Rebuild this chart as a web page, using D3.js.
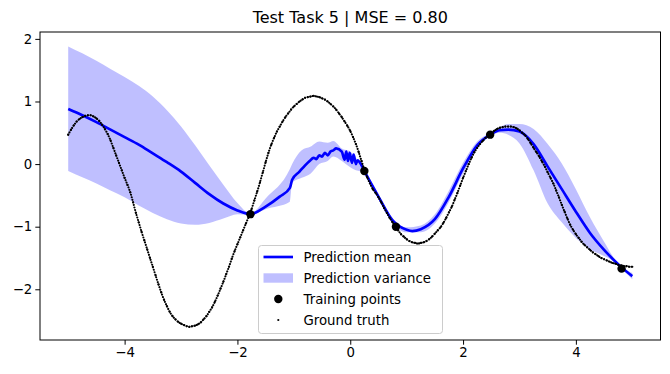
<!DOCTYPE html>
<html><head><meta charset="utf-8">
<script src="https://cdn.jsdelivr.net/npm/d3@7"></script>
<style>body{margin:0;background:#fff}svg{display:block;font-family:"DejaVu Sans",sans-serif}</style>
</head><body><svg id="c" width="670" height="374"></svg>
<script>
const titleText = "Test Task 5 | MSE = 0.80";
const xTicks = [-4, -2, 0, 2, 4];
const yTicks = [-2, -1, 0, 1, 2];
const legendLabels = ["Prediction mean", "Prediction variance", "Training points", "Ground truth"];

const predX = [-5.0,-4.75,-4.5,-4.25,-4.0,-3.75,-3.5,-3.25,-3.0,-2.75,-2.5,-2.25,-2.0,-1.77,-1.5,-1.25,-1.07,-1.03,-0.9,-0.8,-0.72,-0.65,-0.6,-0.55,-0.5,-0.45,-0.4,-0.35,-0.3,-0.25,-0.15,-0.1,-0.07,-0.04,-0.01,0.03,0.06,0.1,0.13,0.2,0.25,0.5,0.75,1.0,1.1,1.25,1.5,1.75,2.0,2.25,2.5,2.65,2.8,3.0,3.25,3.5,3.75,4.0,4.25,4.5,4.75,4.81,5.0];
const predMean = [0.88,0.78,0.67,0.55,0.43,0.31,0.17,0.03,-0.12,-0.30,-0.48,-0.63,-0.74,-0.80,-0.68,-0.52,-0.38,-0.25,-0.12,-0.02,0.05,0.10,0.08,0.14,0.12,0.18,0.14,0.20,0.22,0.25,0.20,0.07,0.20,0.05,0.18,0.02,0.15,0.0,0.06,-0.02,-0.11,-0.52,-0.90,-1.05,-1.07,-1.04,-0.88,-0.52,-0.07,0.30,0.48,0.54,0.55,0.52,0.32,-0.04,-0.40,-0.76,-1.10,-1.37,-1.60,-1.65,-1.79];

const bandX = [-5.0,-4.75,-4.5,-4.25,-4.0,-3.75,-3.5,-3.25,-3.0,-2.75,-2.5,-2.25,-2.0,-1.77,-1.5,-1.07,-1.03,-0.86,-0.7,-0.55,-0.4,-0.3,-0.15,0.0,0.1,0.25,0.5,0.75,1.0,1.25,1.5,1.75,2.0,2.25,2.48,2.65,2.8,3.0,3.25,3.5,3.75,4.0,4.25,4.5,4.7,4.81,5.0];
const bandUpper = [1.88,1.77,1.65,1.52,1.39,1.25,1.08,0.86,0.60,0.30,-0.02,-0.33,-0.62,-0.79,-0.55,-0.08,0.0,0.22,0.28,0.36,0.34,0.37,0.25,0.20,0.10,-0.09,-0.48,-0.86,-1.01,-0.98,-0.80,-0.42,0.02,0.36,0.50,0.59,0.64,0.64,0.56,0.32,0.01,-0.40,-0.85,-1.24,-1.53,-1.63,-1.74];
const bandLower = [-0.11,-0.21,-0.31,-0.42,-0.53,-0.66,-0.78,-0.88,-0.95,-0.97,-0.94,-0.87,-0.80,-0.81,-0.72,-0.60,-0.30,-0.22,-0.15,0.0,0.05,0.12,0.05,-0.05,-0.10,-0.13,-0.56,-0.94,-1.09,-1.09,-0.95,-0.60,-0.15,0.24,0.46,0.50,0.47,0.33,-0.10,-0.63,-0.93,-1.18,-1.36,-1.47,-1.57,-1.67,-1.84];

const trainX = [-1.77, 0.25, 0.81, 2.48, 4.81];
const trainY = [-0.80, -0.11, -1.00, 0.47, -1.67];

const gtY = [0.47,0.55,0.62,0.68,0.72,0.75,0.77,0.78,0.78,0.76,0.73,0.69,0.63,0.56,0.48,0.38,0.26,0.14,0.02,-0.10,-0.22,-0.33,-0.45,-0.61,-0.78,-0.93,-1.08,-1.22,-1.36,-1.50,-1.64,-1.78,-1.92,-2.05,-2.17,-2.27,-2.36,-2.43,-2.48,-2.52,-2.55,-2.57,-2.59,-2.60,-2.59,-2.58,-2.56,-2.53,-2.48,-2.43,-2.36,-2.29,-2.20,-2.10,-1.99,-1.88,-1.76,-1.64,-1.51,-1.39,-1.28,-1.17,-1.06,-0.95,-0.84,-0.72,-0.58,-0.44,-0.29,-0.13,0.03,0.18,0.31,0.42,0.52,0.60,0.68,0.75,0.81,0.87,0.92,0.96,1.00,1.03,1.06,1.07,1.08,1.09,1.08,1.07,1.05,1.03,1.00,0.96,0.92,0.87,0.81,0.75,0.68,0.61,0.53,0.43,0.32,0.19,0.05,-0.09,-0.21,-0.31,-0.40,-0.46,-0.53,-0.61,-0.70,-0.78,-0.86,-0.93,-1.00,-1.06,-1.12,-1.16,-1.20,-1.23,-1.25,-1.26,-1.27,-1.26,-1.25,-1.23,-1.20,-1.16,-1.11,-1.06,-1.01,-0.94,-0.86,-0.77,-0.68,-0.57,-0.46,-0.34,-0.22,-0.11,0.00,0.10,0.19,0.26,0.32,0.37,0.42,0.46,0.49,0.53,0.56,0.58,0.59,0.60,0.60,0.60,0.59,0.57,0.54,0.50,0.46,0.40,0.33,0.26,0.19,0.12,0.04,-0.04,-0.13,-0.22,-0.31,-0.42,-0.53,-0.65,-0.76,-0.87,-0.97,-1.05,-1.12,-1.18,-1.24,-1.29,-1.33,-1.37,-1.41,-1.44,-1.47,-1.50,-1.52,-1.54,-1.56,-1.58,-1.59,-1.61,-1.62,-1.63,-1.63,-1.64,-1.64];
const gtX = gtY.map((_, i) => -5 + i * 0.05);

const svg = d3.select("#c");
const L = 40, R = 660.5, T = 32, B = 340;
const x = d3.scaleLinear().domain([-5.5, 5.5]).range([L, R]);
const y = d3.scaleLinear().domain([-2.81, 2.11]).range([B, T]);

svg.append("text").attr("x", (L + R) / 2).attr("y", 23).attr("text-anchor", "middle")
  .attr("font-size", 16).attr("fill", "#000").text(titleText);

const g = svg.append("g");
g.append("clipPath").attr("id", "clip").append("rect").attr("x", L).attr("y", T).attr("width", R - L).attr("height", B - T);
const pg = g.append("g").attr("clip-path", "url(#clip)");

pg.append("path").datum(bandX.map((v, i) => [v, bandUpper[i], bandLower[i]]))
  .attr("fill", "#0000ff").attr("fill-opacity", 0.25)
  .attr("d", d3.area().curve(d3.curveMonotoneX).x(d => x(d[0])).y0(d => y(d[2])).y1(d => y(d[1])));

pg.append("path").datum(predX.map((v, i) => [v, predMean[i]]))
  .attr("fill", "none").attr("stroke", "#0000ff").attr("stroke-width", 2.67).attr("stroke-linejoin", "round")
  .attr("d", d3.line().curve(d3.curveMonotoneX).x(d => x(d[0])).y(d => y(d[1])));

const gtData = gtX.map((v, i) => [v, gtY[i]]);
// ground truth: dense dotted markers along the sampled points
pg.append("path").datum(gtData)
  .attr("fill", "none").attr("stroke", "#000").attr("stroke-width", 2.1)
  .attr("stroke-linecap", "round").attr("stroke-dasharray", "0.01 2.6")
  .attr("d", d3.line().curve(d3.curveCatmullRom).x(d => x(d[0])).y(d => y(d[1])));
pg.selectAll("circle.gt").data(gtData).enter().append("circle")
  .attr("class", "gt").attr("cx", d => x(d[0])).attr("cy", d => y(d[1])).attr("r", 1.1).attr("fill", "#000");

pg.selectAll("circle.tr").data(trainX.map((v, i) => [v, trainY[i]])).enter().append("circle")
  .attr("class", "tr").attr("cx", d => x(d[0])).attr("cy", d => y(d[1])).attr("r", 4.2).attr("fill", "#000");

// axes
const fmt = d => d < 0 ? "\u2212" + Math.abs(d) : d;
const xa = svg.append("g").attr("transform", `translate(0,${B})`)
  .call(d3.axisBottom(x).tickValues(xTicks).tickSize(4.7).tickPadding(3).tickFormat(fmt));
const ya = svg.append("g").attr("transform", `translate(${L},0)`)
  .call(d3.axisLeft(y).tickValues(yTicks).tickSize(4.7).tickPadding(3).tickFormat(fmt));
[xa, ya].forEach(a => {
  a.select(".domain").remove();
  a.selectAll("line").attr("stroke", "#000").attr("stroke-width", 1);
  a.selectAll("text").attr("font-size", 13.3).attr("fill", "#000").attr("font-family", "DejaVu Sans");
});
svg.append("rect").attr("x", L).attr("y", T).attr("width", R - L).attr("height", B - T)
  .attr("fill", "none").attr("stroke", "#000").attr("stroke-width", 1);

// legend
const lg = svg.append("g");
lg.append("rect").attr("x", 258.5).attr("y", 245.5).attr("width", 184).attr("height", 88).attr("rx", 3)
  .attr("fill", "#fff").attr("fill-opacity", 0.8).attr("stroke", "#cccccc").attr("stroke-width", 1);
const rowY = [257, 278, 299, 320];
lg.append("line").attr("x1", 263.5).attr("x2", 293).attr("y1", rowY[0]).attr("y2", rowY[0])
  .attr("stroke", "#0000ff").attr("stroke-width", 2.67);
lg.append("rect").attr("x", 263.5).attr("y", rowY[1] - 4.7).attr("width", 29.5).attr("height", 9.4)
  .attr("fill", "#0000ff").attr("fill-opacity", 0.25);
lg.append("circle").attr("cx", 278.3).attr("cy", rowY[2]).attr("r", 4.2).attr("fill", "#000");
lg.append("circle").attr("cx", 278.3).attr("cy", rowY[3]).attr("r", 1.1).attr("fill", "#000");
lg.selectAll("text.lab").data(legendLabels).enter().append("text").attr("class", "lab")
  .attr("x", 303.5).attr("y", (d, i) => rowY[i] + 4.8).attr("font-size", 13.3).attr("fill", "#000").text(d => d);
</script></body></html>
